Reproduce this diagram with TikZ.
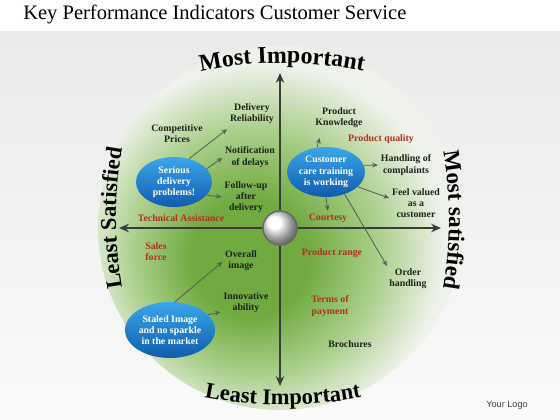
\documentclass[tikz,border=0pt]{standalone}
\usepackage{fontspec}
\setmainfont{Liberation Serif}
\newfontfamily\logofont{Liberation Sans}
\usetikzlibrary{arrows.meta, shapes.geometric, decorations.text, positioning}

\definecolor{kpigreen}{RGB}{112,170,64}
\definecolor{kpimid}{RGB}{172,208,142}
\definecolor{kpiedge}{RGB}{238,242,234}
\definecolor{kpibgtop}{RGB}{234,234,234}
\definecolor{kpibgbot}{RGB}{250,250,250}
\definecolor{kpiaxis}{RGB}{58,62,56}
\definecolor{kpired}{RGB}{178,48,28}
\definecolor{kpitext}{RGB}{28,36,28}
\definecolor{kpiarrow}{RGB}{84,96,84}
\definecolor{kpiblueL}{RGB}{58,166,234}
\definecolor{kpiblueD}{RGB}{16,92,172}

\pgfdeclareradialshading{kpiglow}{\pgfpoint{-5bp}{-5bp}}{color(0bp)=(kpigreen); color(8bp)=(kpigreen); color(17bp)=(kpimid); color(25bp)=(kpiedge); color(50bp)=(kpiedge)}

\tikzset{
  axis/.style={draw=kpiaxis, line width=1.8pt, -{Stealth[length=7pt,width=6pt]}},
  link/.style={draw=kpiarrow, line width=0.6pt, -{Stealth[length=4pt,width=3.5pt]}},
  lbl/.style={font=\bfseries\fontsize{7}{8}\selectfont, align=center, text=kpitext, inner sep=1pt},
  keylbl/.style={lbl, text=kpired},
  bubble/.style={ellipse, inner sep=0pt, top color=kpiblueL, bottom color=kpiblueD,
    text=white, align=center, font=\bfseries\fontsize{7}{8}\selectfont},
  arclbl/.style={decorate, decoration={text along path, text align=center, text color=black}}
}

\begin{document}
\begin{tikzpicture}[x=0.025cm, y=0.025cm]
\useasboundingbox (0,0) rectangle (560,420);

\shade[top color=kpibgtop, bottom color=kpibgbot] (0,0) rectangle (560,389);
\fill[white] (0,389) rectangle (560,420);
\shade[shading=kpiglow] (280,192) circle[radius=182];

\node[anchor=west, inner sep=0pt] (title) at (23,406) {\fontsize{14.6}{15}\selectfont Key Performance Indicators Customer Service};
\node[text=black!75] (logo) at (507,15) {\logofont\fontsize{6.5}{7}\selectfont Your Logo};

\coordinate (hubc) at (280,192);
\coordinate (mi) at (280,347);
\coordinate (li) at (280,34);
\coordinate (ls) at (119,192);
\coordinate (ms) at (441,192);

\node[circle, minimum size=0.85cm, ball color=white, draw=black!60, line width=1pt] (hub) at (hubc) {};
\draw[axis] (hub) -- (mi);
\draw[axis] (hub) -- (li);
\draw[axis] (hub) -- (ls);
\draw[axis] (hub) -- (ms);

\path[arclbl, decoration={text={|\bfseries\fontsize{17}{17}\selectfont|Most Important}}]
  (282,-43) ++(104:400) arc[start angle=104, end angle=76, radius=400];
\path[arclbl, decoration={text={|\bfseries\fontsize{16}{16}\selectfont|Least Important}}]
  (283,415) ++(256:400) arc[start angle=256, end angle=284, radius=400];
\path[arclbl, decoration={text={|\bfseries\fontsize{16}{16}\selectfont|Least Satisfied}}]
  (516,202) ++(193:400) arc[start angle=193, end angle=167, radius=400];
\path[arclbl, decoration={text={|\bfseries\fontsize{16.5}{16.5}\selectfont|Most satisfied}}]
  (49,200) ++(13:400) arc[start angle=13, end angle=-13, radius=400];

\node[bubble, minimum width=1.9cm, minimum height=1.25cm] (serious) at (174,238) {Serious\\delivery\\problems!};
\node[bubble, minimum width=1.95cm, minimum height=1.25cm] (care) at (326,248) {Customer\\care training\\is working};
\node[bubble, minimum width=2.25cm, minimum height=1.4cm] (staled) at (170,90) {Staled Image\\and no sparkle\\in the market};

\node[lbl] (prices) at (177,286) {Competitive\\Prices};
\node[lbl] (delrel) at (252,306) {Delivery\\Reliability};
\node[lbl] (notif) at (250,263) {Notification\\of delays};
\node[lbl] (follow) at (246,223) {Follow-up\\after\\delivery};
\node[keylbl] (techass) at (181,202) {Technical Assistance};

\node[lbl] (prodkn) at (339,302) {Product\\Knowledge};
\node[keylbl] (prodq) at (381,281) {Product quality};
\node[lbl] (complaints) at (406,255) {Handling of\\complaints};
\node[lbl] (valued) at (416,217) {Feel valued\\as a\\customer};
\node[keylbl] (courtesy) at (328,202) {Courtesy};
\node[lbl] (order) at (408,141) {Order\\handling};
\node[keylbl] (range) at (332,167) {Product range};
\node[keylbl] (terms) at (330,114) {Terms of\\payment};
\node[lbl] (brochures) at (350,76) {Brochures};

\node[keylbl] (sales) at (156,168) {Sales\\force};
\node[lbl] (overall) at (241,159) {Overall\\image};
\node[lbl] (innov) at (246,117) {Innovative\\ability};

\draw[link, shorten >=4pt] (serious.57) -- (delrel.210);
\draw[link, shorten >=1pt] (serious.22) -- (notif.west);
\draw[link, shorten >=1pt] (serious.-22) -- (follow.west);

\draw[link, shorten >=6pt] (care.110) -- ([xshift=-12pt]prodkn.south);
\draw[link, shorten >=1pt] (care.10) -- (complaints.west);
\draw[link, shorten >=1pt] (care.-25) -- (valued.170);
\draw[link, shorten >=1pt] (care.south) -- (courtesy.north);
\draw[link, shorten >=1pt] (care.-50) -- (order.north west);

\draw[link, shorten >=1pt] (staled.80) -- (overall.west);
\draw[link, shorten >=1pt] (staled.22) -- (innov.200);
\end{tikzpicture}
\end{document}
